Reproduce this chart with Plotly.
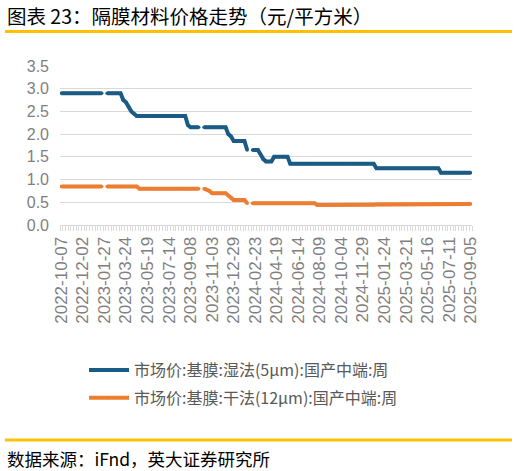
import pandas as pd
import plotly.graph_objects as go

# weekly observation dates (Fridays)
dates = pd.date_range("2022-10-07", "2025-09-05", freq="7D")

# 市场价:基膜:湿法(5μm):国产中端:周
wet_5um = [
    2.9, 2.9, 2.9, 2.9, 2.9, 2.9, 2.9, 2.9, 2.9, 2.9, 2.9, 2.9, 2.9, 2.9, 2.9, 2.9,
    None, 2.9, 2.9, 2.9, 2.9, 2.9, 2.9, 2.75, 2.7, 2.6, 2.5, 2.45,
    2.4, 2.4, 2.4, 2.4, 2.4, 2.4, 2.4, 2.4, 2.4, 2.4, 2.4, 2.4, 2.4, 2.4, 2.4, 2.4,
    2.4, 2.4, 2.4, 2.2, 2.15, 2.15, 2.15, 2.15, None,
    2.15, 2.15, 2.15, 2.15, 2.15, 2.15, 2.15, 2.15, 2.15, 2.0, 1.95,
    1.85, 1.85, 1.85, 1.85, 1.85, 1.65, None, 1.65, 1.65, 1.65, 1.55, 1.45,
    1.4, 1.4, 1.4, 1.5, 1.5, 1.5, 1.5, 1.5, 1.5,
    1.35, 1.35, 1.35, 1.35, 1.35, 1.35, 1.35, 1.35, 1.35, 1.35, 1.35, 1.35, 1.35, 1.35, 1.35, 1.35,
    1.35, 1.35, 1.35, 1.35, 1.35, 1.35, 1.35, 1.35, 1.35, 1.35, 1.35, 1.35, 1.35, 1.35, 1.35, 1.35,
    1.25, 1.25, 1.25, 1.25, 1.25, 1.25, 1.25, 1.25, 1.25, 1.25, 1.25, 1.25,
    1.25, 1.25, 1.25, 1.25, 1.25, 1.25, 1.25, 1.25, 1.25, 1.25, 1.25, 1.25,
    1.15, 1.15, 1.15, 1.15, 1.15, 1.15, 1.15, 1.15, 1.15, 1.15, 1.15, 1.15,
]

# 市场价:基膜:干法(12μm):国产中端:周
dry_12um = [
    0.85, 0.85, 0.85, 0.85, 0.85, 0.85, 0.85, 0.85, 0.85, 0.85, 0.85, 0.85, 0.85, 0.85, 0.85, 0.85,
    None, 0.85, 0.85, 0.85, 0.85, 0.85, 0.85, 0.85, 0.85, 0.85, 0.85, 0.85, 0.85,
    0.8, 0.8, 0.8, 0.8, 0.8, 0.8, 0.8, 0.8, 0.8, 0.8, 0.8, 0.8,
    0.8, 0.8, 0.8, 0.8, 0.8, 0.8, 0.8, 0.8, 0.8, 0.8, 0.8, None,
    0.8, 0.78, 0.75, 0.7, 0.7, 0.7, 0.7, 0.7, 0.7, 0.65, 0.6,
    0.55, 0.55, 0.55, 0.55, 0.55, 0.48, None,
    0.48, 0.48, 0.48, 0.48, 0.48, 0.48, 0.48, 0.48, 0.48, 0.48, 0.48, 0.48,
    0.48, 0.48, 0.48, 0.48, 0.48, 0.48, 0.48, 0.48, 0.48, 0.48, 0.48, 0.48,
    0.44, 0.44, 0.44, 0.44, 0.44, 0.44, 0.44, 0.44, 0.44, 0.44, 0.44,
    0.44, 0.44, 0.44, 0.44, 0.44, 0.44, 0.44, 0.44, 0.44, 0.44, 0.44,
    0.46, 0.46, 0.46, 0.46, 0.46, 0.46, 0.46, 0.46, 0.46, 0.46, 0.46, 0.46,
    0.46, 0.46, 0.46, 0.46, 0.46, 0.46, 0.46, 0.46, 0.46, 0.46, 0.46, 0.46,
    0.46, 0.46, 0.46, 0.46, 0.46, 0.46, 0.46, 0.46, 0.46, 0.46, 0.46, 0.46,
]

series_names = ["市场价:基膜:湿法(5μm):国产中端:周", "市场价:基膜:干法(12μm):国产中端:周"]
series_colors = ["#1B5C84", "#ED7D31"]
tick_dates = dates[::8]

title_text = "图表 23：隔膜材料价格走势（元/平方米）"
source_text = "数据来源：iFnd，英大证券研究所"

cjk = "Noto Sans CJK SC"
grey = "#7F7F7F"
gold = "#FFC000"

fig = go.Figure()
for vals, name, color, grp in zip([wet_5um, dry_12um], series_names, series_colors, ["wet", "dry"]):
    # small dots at each point round off the line ends next to the gaps
    fig.add_trace(go.Scatter(x=dates, y=vals, mode="lines+markers", name=name,
                             legendgroup=grp, line=dict(color=color, width=4),
                             marker=dict(color=color, size=3.5, line=dict(width=0))))

half_week = pd.Timedelta(days=3.5)
fig.update_xaxes(
    type="date",
    range=[dates[0] - half_week, dates[-1] + half_week],
    tickvals=tick_dates,
    tickformat="%Y-%m-%d",
    tickangle=-90,
    tickfont=dict(family="Liberation Sans", size=17, color=grey),
    showgrid=False,
    showline=True, linecolor="#D9D9D9", linewidth=1,
    ticks="",
    ticklabelstandoff=4,
    automargin=False,
    minor=dict(ticks="outside", ticklen=5, tickcolor="#D9D9D9",
               tick0=dates[0] - half_week, dtick=7 * 86400000, showgrid=False),
)
fig.update_yaxes(
    range=[0, 3.5], dtick=0.5, tickformat=".1f",
    tickfont=dict(family="Liberation Sans", size=16, color=grey),
    gridcolor="#D9D9D9", gridwidth=1, zeroline=False,
    ticks="", ticklabelstandoff=10, automargin=False,
)

# paper coords: x 0..1 -> 60..472 px, y 0..1 -> 225..66 px
def px(x):
    return (x - 60) / 412

def py(y):
    return (225 - y) / 159

fig.add_shape(type="line", xref="paper", yref="paper", x0=px(5), x1=px(512),
              y0=py(31.5), y1=py(31.5), line=dict(color=gold, width=3))
fig.add_shape(type="line", xref="paper", yref="paper", x0=px(5), x1=px(512),
              y0=py(440), y1=py(440), line=dict(color=gold, width=3))
fig.add_annotation(text=title_text, xref="paper", yref="paper", x=px(5), y=py(15),
                   xanchor="left", yanchor="middle", showarrow=False,
                   font=dict(family=cjk, size=19.5, color="black"))
fig.add_annotation(text=source_text, xref="paper", yref="paper", x=px(5), y=py(458),
                   xanchor="left", yanchor="middle", showarrow=False,
                   font=dict(family=cjk, size=17.5, color="black"))

fig.update_layout(
    width=517, height=471,
    margin=dict(l=60, r=45, t=66, b=246, autoexpand=False),
    paper_bgcolor="white", plot_bgcolor="white",
    showlegend=True,
    legend=dict(x=px(84), y=py(353), xanchor="left", yanchor="top",
                font=dict(family=cjk, size=16, color="#595959"),
                bgcolor="rgba(0,0,0,0)", itemwidth=40, tracegroupgap=4),
)

# drop the browser's default 8px body margin so the figure sits at the window corner
fig.write_html("out.html", config={"displayModeBar": False},
               post_script="document.body.style.margin = '0';")
